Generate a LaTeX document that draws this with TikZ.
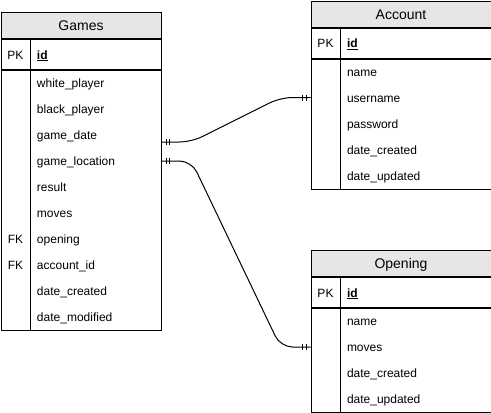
\documentclass[tikz,border=0pt]{standalone}
\usepackage{fontspec}
\setmainfont{Liberation Sans}
\usetikzlibrary{calc,decorations.markings}
\definecolor{headgray}{HTML}{E6E6E6}
\tikzset{
  tblhead/.style={draw,fill=headgray,anchor=north west,inner sep=0pt,minimum height=26pt,
    text height=11pt,text depth=1pt,font=\fontsize{14}{16}\selectfont},
  tblkey/.style={draw,anchor=north west,inner sep=0pt,minimum height=30pt},
  tblbody/.style={draw,anchor=north west,inner sep=0pt},
  keytxt/.style={anchor=center,inner sep=0pt,text height=10pt,text depth=1pt},
  fieldtxt/.style={anchor=west,inner sep=0pt,text height=10pt,text depth=1pt},
  mandone/.style={postaction={decorate},decoration={markings,
    mark=at position 4.5pt with {\draw[line width=1pt] (0,-3pt) -- (0,3pt);},
    mark=at position 8pt with {\draw[line width=1pt] (0,-3pt) -- (0,3pt);},
    mark=at position -4.5pt with {\draw[line width=1pt] (0,-3pt) -- (0,3pt);},
    mark=at position -8pt with {\draw[line width=1pt] (0,-3pt) -- (0,3pt);}}},
  rel/.style={line width=1pt,rounded corners=12pt,mandone}
}
\begin{document}
\begin{tikzpicture}[x=1pt,y=-1pt,line width=1pt,font=\fontsize{12}{14}\selectfont]
  \useasboundingbox (0,0) rectangle (491,413);
  \def\rh{26}  % row height
  \def\kw{30}  % key column width

% define erTable (#name, #x, #y, #width, #title, #rows){#key/field list}
  \def\erTable(#1,#2,#3,#4,#5,#6)#7{
    \node[tblhead,minimum width=#4] (#1-head) at (#2,#3) {#5};
    \node[tblkey,minimum width=#4] (#1-key) at (#1-head.south west) {};
    \node[tblbody,minimum width=#4,minimum height=#6*\rh] (#1-body) at (#1-key.south west) {};
    \draw ($(#1-key.north west)+(\kw,0)$) -- ($(#1-body.south west)+(\kw,0)$);
    \node[keytxt] (#1-pk) at ($(#1-key.west)+(\kw/2,0)$) {PK};
    \node[fieldtxt] (#1-id) at ($(#1-key.west)+(\kw+6,0)$) {\underline{\textbf{id}}};
    \foreach \k/\f [count=\i] in {#7}{
      \node[keytxt] (#1-k\i) at ($(#1-body.north west)+(\kw/2,\rh*\i-\rh/2)$) {\k};
      \node[fieldtxt] (#1-\i) at ($(#1-body.north west)+(\kw+6,\rh*\i-\rh/2)$) {\f};
    }}

  \erTable(games,0.5,12,160,Games,10){/white\_player,/black\_player,/game\_date,/game\_location,/result,/moves,FK/opening,FK/account\_id,/date\_created,/date\_modified}
  \erTable(account,310.5,0.5,180,Account,5){/name,/username,/password,/date\_created,/date\_updated}
  \erTable(opening,310.5,250,180,Opening,4){/name,/moves,/date\_created,/date\_updated}

  % relations
  \draw[rel] ($(games-3 -| games-head.east)+(0,7)$) -- ++(30,0)
    -- ($(account-2 -| account-head.west)+(-30,0)$) -- (account-2 -| account-head.west);
  \draw[rel] (games-4 -| games-head.east) -- ++(30,0)
    -- ($(opening-2 -| opening-head.west)+(-30,0)$) -- (opening-2 -| opening-head.west);
\end{tikzpicture}
\end{document}
